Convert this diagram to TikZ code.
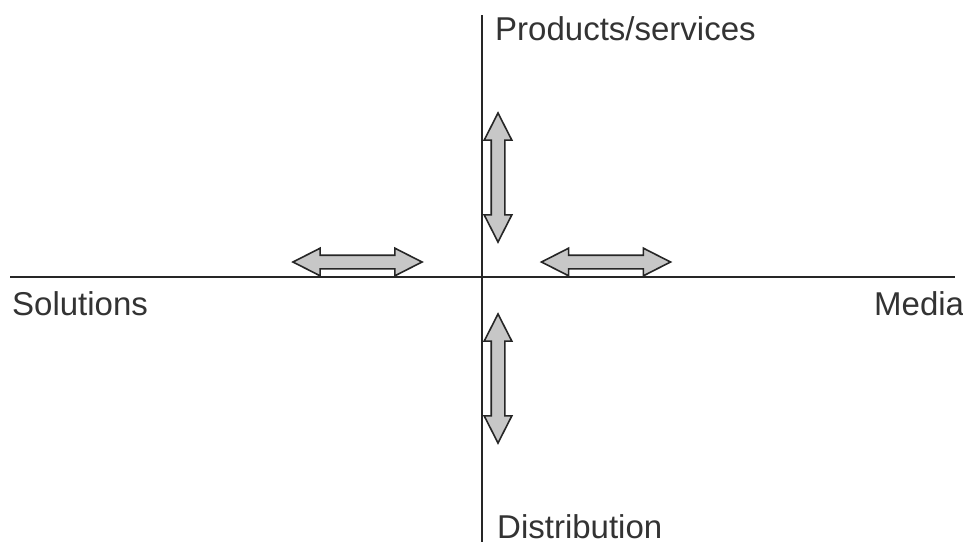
\documentclass[tikz,border=0pt]{standalone}
\usepackage{fontspec}
\setmainfont{Liberation Sans}
\usetikzlibrary{shapes.arrows}
\begin{document}
\begin{tikzpicture}[x=1pt,y=-1pt,
  axis/.style={line width=2.6pt,draw=black!85},
  lbl/.style={inner sep=0pt,font=\fontsize{33}{38}\selectfont,text=black!80},
  darrow/.style={double arrow,draw=black!85,line width=1.6pt,fill=black!22,
    minimum width=27pt,minimum height=129pt,inner xsep=0pt,inner ysep=6pt,
    double arrow head extend=7pt,double arrow tip angle=54},
]
\useasboundingbox[fill=white] (0,0) rectangle (963,542);
\coordinate (top) at (482,15);
\coordinate (bot) at (482,542);
\coordinate (lft) at (10,277);
\coordinate (rgt) at (955,277);
\draw[axis] (top) -- (bot);
\draw[axis] (lft) -- (rgt);
\node[lbl,anchor=base west] (prod) at (495,40) {Products/services};
\node[lbl,anchor=base west] (sol) at (12,315) {Solutions};
\node[lbl,anchor=base west] (med) at (874,315) {Media};
\node[lbl,anchor=base west] (dist) at (497,538) {Distribution};
\node[darrow] (aL) at (357.5,262) {};
\node[darrow] (aR) at (606,262) {};
\node[darrow,rotate=90] (aU) at (498,177.5) {};
\node[darrow,rotate=90] (aD) at (498,378.5) {};
\end{tikzpicture}
\end{document}
